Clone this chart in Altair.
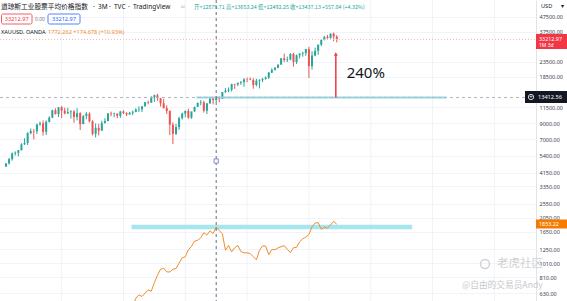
import altair as alt
import pandas as pd

# ---------------- data ----------------
quarters = [
    "1995Q3", "1995Q4", "1996Q1", "1996Q2", "1996Q3", "1996Q4", "1997Q1", "1997Q2", "1997Q3", "1997Q4",
    "1998Q1", "1998Q2", "1998Q3", "1998Q4", "1999Q1", "1999Q2", "1999Q3", "1999Q4", "2000Q1", "2000Q2",
    "2000Q3", "2000Q4", "2001Q1", "2001Q2", "2001Q3", "2001Q4", "2002Q1", "2002Q2", "2002Q3", "2002Q4",
    "2003Q1", "2003Q2", "2003Q3", "2003Q4", "2004Q1", "2004Q2", "2004Q3", "2004Q4", "2005Q1", "2005Q2",
    "2005Q3", "2005Q4", "2006Q1", "2006Q2", "2006Q3", "2006Q4", "2007Q1", "2007Q2", "2007Q3", "2007Q4",
    "2008Q1", "2008Q2", "2008Q3", "2008Q4", "2009Q1", "2009Q2", "2009Q3", "2009Q4", "2010Q1", "2010Q2",
    "2010Q3", "2010Q4", "2011Q1", "2011Q2", "2011Q3", "2011Q4", "2012Q1", "2012Q2", "2012Q3", "2012Q4",
    "2013Q1", "2013Q2", "2013Q3", "2013Q4", "2014Q1", "2014Q2", "2014Q3", "2014Q4", "2015Q1", "2015Q2",
    "2015Q3", "2015Q4", "2016Q1", "2016Q2", "2016Q3", "2016Q4", "2017Q1", "2017Q2", "2017Q3", "2017Q4",
    "2018Q1", "2018Q2", "2018Q3", "2018Q4", "2019Q1", "2019Q2", "2019Q3", "2019Q4", "2020Q1", "2020Q2",
    "2020Q3", "2020Q4", "2021Q1", "2021Q2", "2021Q3", "2021Q4", "2022Q1", "2022Q2",
]
dji_open = [
    4556, 4789, 5117, 5587, 5655, 5882, 6448, 6584, 7673, 7945,
    7908, 8800, 8952, 7843, 9181, 9786, 10971, 10337, 11497, 10922,
    10448, 10651, 10787, 9879, 10502, 8848, 10022, 10404, 9243, 7592,
    8342, 7992, 8985, 9275, 10454, 10358, 10435, 10080, 10783, 10504,
    10275, 10569, 10718, 11109, 11150, 11679, 12463, 12354, 13409, 13896,
    13265, 12263, 11350, 10851, 8776, 7609, 8447, 9712, 10428, 10857,
    9774, 10788, 11578, 12320, 12414, 10913, 12218, 13212, 12880, 13437,
    13104, 14579, 14910, 15130, 16577, 16458, 16827, 17043, 17823, 17776,
    17620, 16285, 17425, 17685, 17930, 18308, 19763, 20663, 21350, 22405,
    24719, 24103, 24271, 26458, 23327, 25929, 26600, 26917, 28538, 21917,
    25813, 27782, 30606, 32982, 34503, 33844, 36338, 34678,
]
dji_high = [
    4801, 5216, 5683, 5778, 5905, 6560, 7085, 7796, 8259, 8178,
    8906, 9211, 9367, 9374, 10002, 11107, 11326, 11568, 11750, 11425,
    11401, 10984, 11036, 11350, 10648, 10184, 10673, 10635, 9406, 8932,
    8870, 9323, 9686, 10470, 10753, 10570, 10435, 10868, 10984, 10650,
    10720, 10940, 11335, 11670, 11727, 12529, 12796, 13692, 14022, 14198,
    13338, 13136, 11867, 10980, 9088, 8877, 9917, 10580, 10954, 11258,
    10720, 11625, 12391, 12876, 12753, 12284, 13297, 13338, 13653, 13661,
    14585, 15542, 15709, 16588, 16588, 16978, 17350, 18103, 18288, 18351,
    18137, 17978, 17790, 18168, 18668, 19987, 21169, 21535, 22420, 24876,
    26617, 25402, 26770, 26952, 26241, 26696, 27399, 28702, 29569, 27581,
    29199, 30637, 33259, 35091, 35631, 36565, 36953, 35492,
]
dji_low = [
    4541, 4704, 5000, 5420, 5346, 5870, 6391, 6391, 7539, 6971,
    7580, 8627, 7400, 7467, 9063, 9716, 10286, 9884, 9731, 10300,
    10366, 9654, 9047, 9389, 8062, 8836, 9529, 9075, 7419, 7181,
    7416, 7990, 8936, 9275, 10000, 9852, 9708, 9750, 10365, 10012,
    10270, 10156, 10661, 10700, 10683, 11670, 12050, 12354, 12518, 12725,
    11635, 11288, 10365, 7450, 6470, 7450, 8087, 9487, 9835, 9614,
    9614, 10700, 11555, 11862, 10604, 10362, 12217, 12035, 12492, 12471,
    13104, 14434, 14552, 14719, 15340, 16015, 16333, 15855, 17037, 17576,
    15370, 15942, 15451, 17063, 17713, 17884, 19677, 20379, 21197, 22405,
    23344, 23345, 23998, 21713, 22639, 24680, 25340, 25743, 18214, 20735,
    25524, 26143, 29856, 32717, 33613, 33742, 32272, 31728,
]
dji_close = [
    4789, 5117, 5587, 5655, 5882, 6448, 6584, 7673, 7945, 7908,
    8800, 8952, 7843, 9181, 9786, 10971, 10337, 11497, 10922, 10448,
    10651, 10787, 9879, 10502, 8848, 10022, 10404, 9243, 7592, 8342,
    7992, 8985, 9275, 10454, 10358, 10435, 10080, 10783, 10504, 10275,
    10569, 10718, 11109, 11150, 11679, 12463, 12354, 13409, 13896, 13265,
    12263, 11350, 10851, 8776, 7609, 8447, 9712, 10428, 10857, 9774,
    10788, 11578, 12320, 12414, 10913, 12218, 13212, 12880, 13437, 13104,
    14579, 14910, 15130, 16577, 16458, 16827, 17043, 17823, 17776, 17620,
    16285, 17425, 17685, 17930, 18308, 19763, 20663, 21350, 22405, 24719,
    24103, 24271, 26458, 23327, 25929, 26600, 26917, 28538, 21917, 25813,
    27782, 30606, 32982, 34503, 33844, 36338, 34678, 33213,
]

gold_start_quarter = "2004Q1"
gold_close = [
    427, 395, 416, 438, 428, 437, 473, 513, 583, 614,
    599, 632, 662, 650, 743, 834, 917, 930, 880, 878,
    916, 927, 1008, 1096, 1113, 1244, 1307, 1421, 1439, 1500,
    1620, 1565, 1669, 1598, 1772, 1675, 1595, 1234, 1327, 1202,
    1284, 1327, 1208, 1184, 1183, 1172, 1115, 1061, 1233, 1321,
    1316, 1151, 1249, 1242, 1280, 1303, 1325, 1253, 1187, 1282,
    1292, 1409, 1472, 1517, 1577, 1781, 1886, 1898, 1708, 1770,
    1743, 1829, 1937, 1853,
]

axis_values = [47500, 37500, 23500, 18500, 11500, 9000, 7000, 5400, 4150,
               3350, 2550, 2050, 1650, 1250, 1010, 810, 630]
vgrid_idx = [18, 38, 58, 78, 98, 118, 138, 158]

cross_quarter = "2012Q3"
cross_price = 13412.56
last_price = 33212.97
gold_cross = 1772.262
gold_last = 1853.22
marker_price = 4970
arrow_quarter_pos = 106.7
arrow_top = 26440
label_pos = 110.2
label_price = 19640
upper_band = [61.6, 142.5]
lower_band = [40.6, 131.4]

# ---------------- frames ----------------
qidx = {q: i for i, q in enumerate(quarters)}
UP, DOWN = "#26a69a", "#ef5350"
dji = pd.DataFrame({
    "q": quarters, "i": list(range(len(quarters))),
    "o": dji_open, "h": dji_high, "l": dji_low, "c": dji_close,
})
dji["col"] = [UP if c >= o else DOWN for o, c in zip(dji_open, dji_close)]
g0 = qidx[gold_start_quarter]
gold = pd.DataFrame({"i": [g0 + k for k in range(len(gold_close))], "v": gold_close})

W, H = 536, 301
XS = alt.Scale(domain=[-0.32, 169.84], nice=False, zero=False)
YS = alt.Scale(type="log", domain=[558, 61500], nice=False)
YAX = alt.Axis(orient="right", values=axis_values, format=".2f", ticks=False, domain=True,
               domainColor="#e0e3eb", labelPadding=3, labelFontSize=5.5, labelColor="#3a3e4a",
               labelFont="Noto Sans", grid=True, gridColor="#f0f3fa", title=None)


def X(f):
    return alt.X(f, type="quantitative", scale=XS, axis=None)


def Y(f):
    return alt.Y(f, type="quantitative", scale=YS, axis=YAX)


def Y2(f):
    return alt.Y2(f)


one = pd.DataFrame({"a": [0]})
layers = []

# vertical grid lines
layers.append(alt.Chart(pd.DataFrame({"i": vgrid_idx})).mark_rule(color="#f0f3fa", strokeWidth=1)
              .encode(x=X("i"), y=alt.value(0), y2=alt.value(H)))

# candles
layers.append(alt.Chart(dji).mark_rule(strokeWidth=1, clip=True)
              .encode(x=X("i"), y=Y("l"), y2=Y2("h"), color=alt.Color("col:N", scale=None)))
layers.append(alt.Chart(dji).mark_bar(size=2, clip=True)
              .encode(x=X("i"), y=Y("o"), y2=Y2("c"), color=alt.Color("col:N", scale=None)))

# cyan bands
layers.append(alt.Chart(pd.DataFrame({"a": [upper_band[0]], "b": [upper_band[1]], "v": [cross_price]}))
              .mark_rule(color="#8fd9e4", strokeWidth=2)
              .encode(x=X("a"), x2=alt.X2("b"), y=Y("v")))
layers.append(alt.Chart(pd.DataFrame({"a": [lower_band[0]], "b": [lower_band[1]], "v": [gold_cross]}))
              .mark_rule(color="#a6e6ee", strokeWidth=4.5)
              .encode(x=X("a"), x2=alt.X2("b"), y=Y("v")))

# gold line
layers.append(alt.Chart(gold).mark_line(color="#f08c2c", strokeWidth=1, clip=True)
              .encode(x=X("i"), y=Y("v")))

# price lines / crosshair
layers.append(alt.Chart(pd.DataFrame({"v": [last_price]}))
              .mark_rule(color="#f9b4b7", strokeWidth=1, strokeDash=[1, 2])
              .encode(y=Y("v"), x=alt.value(0), x2=alt.value(W)))
layers.append(alt.Chart(pd.DataFrame({"v": [cross_price]}))
              .mark_rule(color="#b2b5be", strokeWidth=1, strokeDash=[3, 3])
              .encode(y=Y("v"), x=alt.value(0), x2=alt.value(W)))
layers.append(alt.Chart(pd.DataFrame({"i": [qidx[cross_quarter]]}))
              .mark_rule(color="#6a6d78", strokeWidth=1, strokeDash=[3, 3])
              .encode(x=X("i"), y=alt.value(0), y2=alt.value(H)))
layers.append(alt.Chart(pd.DataFrame({"i": [qidx[cross_quarter]], "v": [marker_price]}))
              .mark_point(shape="square", size=18, filled=True, fill="white", stroke="#7e8bc9",
                          strokeWidth=1, opacity=1)
              .encode(x=X("i"), y=Y("v")))

# red arrow + 240%
layers.append(alt.Chart(pd.DataFrame({"i": [arrow_quarter_pos], "a": [cross_price], "b": [arrow_top * 0.98]}))
              .mark_rule(color="#f23645", strokeWidth=1.5)
              .encode(x=X("i"), y=Y("a"), y2=Y2("b")))
layers.append(alt.Chart(pd.DataFrame({"i": [arrow_quarter_pos], "v": [arrow_top]}))
              .mark_point(shape="triangle-up", size=16, filled=True, color="#f23645", opacity=1)
              .encode(x=X("i"), y=Y("v")))
layers.append(alt.Chart(pd.DataFrame({"i": [label_pos], "v": [label_price], "t": ["240%"]}))
              .mark_text(align="left", baseline="middle", fontSize=15, font="Noto Sans", color="#131722")
              .encode(x=X("i"), y=Y("v"), text="t:N"))


def txt(t, x, y, size, color, align="left", font="Noto Sans", weight="normal"):
    return alt.Chart(one).mark_text(text=t, align=align, baseline="middle", fontSize=size,
                                    font=font, color=color, fontWeight=weight).encode(
        x=alt.value(x), y=alt.value(y))


def box(x1, x2, y1, y2, fill, stroke=None):
    kw = dict(fill=fill)
    if stroke:
        kw.update(stroke=stroke, strokeWidth=0.8, cornerRadius=1.5)
    return alt.Chart(one).mark_rect(**kw).encode(
        x=alt.value(x1), x2=alt.value(x2), y=alt.value(y1), y2=alt.value(y2))


CJK = "Noto Sans CJK SC"
# header row 1
layers.append(txt("道琼斯工业股票平均价格指数", 1, 7, 6.7, "#131722", font=CJK))
layers.append(txt("·", 93, 7, 6.7, "#131722"))
layers.append(txt("3M", 98, 7, 6.5, "#131722"))
layers.append(txt("·", 109, 7, 6.7, "#131722"))
layers.append(txt("TVC", 114, 7, 6.5, "#131722"))
layers.append(txt("·", 128, 7, 6.7, "#131722"))
layers.append(txt("TradingView", 133, 7, 6.5, "#131722"))
layers.append(txt("≈", 181, 7, 7, "#9598a1"))
layers.append(txt("开=12879.71 高=13653.24 低=12492.25 收=13437.13 +557.04 (+4.32%)", 194, 7, 5.4,
                  "#26a69a", font=CJK))
# header row 2
layers.append(box(1.5, 32, 14, 24, "white", "#f23645"))
layers.append(txt("33212.97", 16.7, 19, 5.6, "#f23645", align="center"))
layers.append(txt("0.00", 40, 19, 5, "#787b86", align="center"))
layers.append(box(48, 80, 14, 24, "white", "#2962ff"))
layers.append(txt("33212.97", 64, 19, 5.6, "#2962ff", align="center"))
# header row 3
layers.append(txt("XAUUSD, OANDA", 1, 32, 5.6, "#131722"))
layers.append(txt("1772.262 +174.678 (+10.93%)", 48, 32, 5.6, "#f08c2c"))

# right axis extras
layers.append(txt("USD", 541, 6, 5.6, "#131722"))
layers.append(txt("▾", 561, 6, 5.5, "#131722"))
layers.append(box(536, 567, 34, 49, "#f23645"))
layers.append(txt("33212.97", 539, 38.8, 5.4, "white"))
layers.append(txt("1M 3d", 539, 45, 5.0, "white"))
layers.append(box(525, 567, 91, 103, "#131722"))
layers.append(alt.Chart(one).mark_point(shape="circle", size=28, stroke="white", strokeWidth=0.8,
                                        opacity=1).encode(x=alt.value(531), y=alt.value(97)))
layers.append(txt("+", 531, 97, 6, "white", align="center"))
layers.append(txt("13412.56", 538, 97, 5.6, "white"))
layers.append(box(536, 567, 219.5, 228.5, "#f57c00"))
layers.append(txt("1853.22", 539, 224, 5.4, "white"))

# watermark
layers.append(alt.Chart(one).mark_point(shape="circle", size=80, stroke="#cfd0d3", strokeWidth=1.4,
                                        opacity=1).encode(x=alt.value(485), y=alt.value(264)))
layers.append(txt("老虎社区", 497, 264, 11.5, "#cfd0d3", font=CJK))
layers.append(txt("@自由的交易员Andy", 462, 285, 8.7, "#c8c9cc", font=CJK))

chart = alt.layer(*layers).properties(
    width=W, height=H,
    autosize=alt.AutoSizeParams(type="none"),
    padding={"left": 0, "top": 0, "right": 31, "bottom": 0},
    background="white",
).configure_view(stroke=None)

chart.save("out.html", embed_options={"renderer": "svg", "actions": False})
